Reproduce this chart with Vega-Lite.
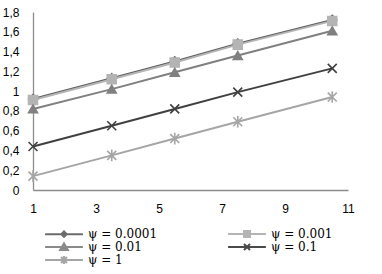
{
  "$schema": "https://vega.github.io/schema/vega-lite/v6.json",
  "autosize": "none",
  "width": 315,
  "height": 178,
  "padding": {"left": 33, "top": 12, "right": 34, "bottom": 84},
  "background": "white",
  "config": {
    "view": {"stroke": null},
    "axis": {
      "labelFont": "Liberation Sans",
      "labelFontSize": 12,
      "labelColor": "#000000",
      "grid": false,
      "ticks": false,
      "domainColor": "#8c8c8c",
      "domainWidth": 1.3,
      "title": null
    }
  },
  "datasets": {
    "series": [
      {"psi": "ψ = 0.0001", "x": 1, "y": 0.92},
      {"psi": "ψ = 0.0001", "x": 3.5, "y": 1.13},
      {"psi": "ψ = 0.0001", "x": 5.5, "y": 1.3},
      {"psi": "ψ = 0.0001", "x": 7.5, "y": 1.48},
      {"psi": "ψ = 0.0001", "x": 10.5, "y": 1.72},
      {"psi": "ψ = 0.001", "x": 1, "y": 0.91},
      {"psi": "ψ = 0.001", "x": 3.5, "y": 1.12},
      {"psi": "ψ = 0.001", "x": 5.5, "y": 1.29},
      {"psi": "ψ = 0.001", "x": 7.5, "y": 1.47},
      {"psi": "ψ = 0.001", "x": 10.5, "y": 1.71},
      {"psi": "ψ = 0.01", "x": 1, "y": 0.82},
      {"psi": "ψ = 0.01", "x": 3.5, "y": 1.02},
      {"psi": "ψ = 0.01", "x": 5.5, "y": 1.19},
      {"psi": "ψ = 0.01", "x": 7.5, "y": 1.36},
      {"psi": "ψ = 0.01", "x": 10.5, "y": 1.61},
      {"psi": "ψ = 0.1", "x": 1, "y": 0.44},
      {"psi": "ψ = 0.1", "x": 3.5, "y": 0.65},
      {"psi": "ψ = 0.1", "x": 5.5, "y": 0.82},
      {"psi": "ψ = 0.1", "x": 7.5, "y": 0.99},
      {"psi": "ψ = 0.1", "x": 10.5, "y": 1.23},
      {"psi": "ψ = 1", "x": 1, "y": 0.14},
      {"psi": "ψ = 1", "x": 3.5, "y": 0.35},
      {"psi": "ψ = 1", "x": 5.5, "y": 0.52},
      {"psi": "ψ = 1", "x": 7.5, "y": 0.69},
      {"psi": "ψ = 1", "x": 10.5, "y": 0.94}
    ]
  },
  "data": {"name": "series"},
  "encoding": {
    "x": {
      "field": "x",
      "type": "quantitative",
      "scale": {"domain": [1, 11], "nice": false, "zero": false},
      "axis": {"values": [1, 3, 5, 7, 9, 11], "labelPadding": 13, "labelFlush": false}
    },
    "y": {
      "field": "y",
      "type": "quantitative",
      "scale": {"domain": [0, 1.8], "nice": false},
      "axis": {
        "values": [0, 0.2, 0.4, 0.6, 0.8, 1, 1.2, 1.4, 1.6, 1.8],
        "labelExpr": "replace(format(datum.value, '.1~f'), '.', ',')",
        "labelPadding": 14
      }
    }
  },
  "layer": [
    {
      "mark": {"type": "line", "strokeWidth": 2},
      "encoding": {
        "color": {
          "field": "psi",
          "type": "nominal",
          "scale": {
            "domain": ["ψ = 0.0001", "ψ = 0.001", "ψ = 0.01", "ψ = 0.1", "ψ = 1"],
            "range": ["#5c5c5c", "#b4b4b4", "#808080", "#404040", "#a5a5a5"]
          },
          "legend": null
        }
      }
    },
    {
      "mark": {"type": "point", "filled": true, "opacity": 1, "size": 80, "strokeWidth": 1.6},
      "encoding": {
        "color": {
          "field": "psi",
          "type": "nominal",
          "scale": {
            "domain": ["ψ = 0.0001", "ψ = 0.001", "ψ = 0.01", "ψ = 0.1", "ψ = 1"],
            "range": ["#5c5c5c", "#b4b4b4", "#808080", "#404040", "#a5a5a5"]
          },
          "legend": null
        },
        "stroke": {
          "field": "psi",
          "type": "nominal",
          "scale": {
            "domain": ["ψ = 0.0001", "ψ = 0.001", "ψ = 0.01", "ψ = 0.1", "ψ = 1"],
            "range": ["#5c5c5c", "#b4b4b4", "#808080", "#404040", "#a5a5a5"]
          },
          "legend": null
        },
        "shape": {
          "field": "psi",
          "type": "nominal",
          "scale": {
            "domain": ["ψ = 0.0001", "ψ = 0.001", "ψ = 0.01", "ψ = 0.1", "ψ = 1"],
            "range": [
              "diamond",
              "square",
              "triangle-up",
              "M-1,-1L1,1M-1,1L1,-1",
              "M-1,-1L1,1M-1,1L1,-1M0,-1.3V1.3"
            ]
          },
          "legend": null
        }
      }
    },
    {
      "transform": [{"filter": "false"}],
      "mark": {"type": "point", "filled": true, "opacity": 1, "size": 36, "strokeWidth": 2},
      "encoding": {
        "color": {
          "field": "psi",
          "type": "nominal",
          "scale": {
            "domain": ["ψ = 0.0001", "ψ = 0.001", "ψ = 0.01", "ψ = 0.1", "ψ = 1"],
            "range": ["#6b6b6b", "#b4b4b4", "#8a8a8a", "#4a4a4a", "#a5a5a5"]
          },
          "legend": {
            "orient": "none",
            "legendX": 25,
            "legendY": 216,
            "direction": "horizontal",
            "columns": 2,
            "columnPadding": 66,
            "rowPadding": -3,
            "labelFont": "DejaVu Serif",
            "labelFontSize": 12,
            "labelColor": "#000000",
            "labelOffset": 18,
            "symbolStrokeWidth": 2,
            "symbolSize": 36,
            "title": null
          }
        },
        "stroke": {
          "field": "psi",
          "type": "nominal",
          "scale": {
            "domain": ["ψ = 0.0001", "ψ = 0.001", "ψ = 0.01", "ψ = 0.1", "ψ = 1"],
            "range": ["#6b6b6b", "#b4b4b4", "#8a8a8a", "#4a4a4a", "#a5a5a5"]
          }
        },
        "shape": {
          "field": "psi",
          "type": "nominal",
          "scale": {
            "domain": ["ψ = 0.0001", "ψ = 0.001", "ψ = 0.01", "ψ = 0.1", "ψ = 1"],
            "range": [
              "M-6.3,0H6.3M0,-0.9L0.9,0L0,0.9L-0.9,0Z",
              "M-6.3,0H6.3M-1,-1H1V1H-1Z",
              "M-6.3,0H6.3M0,-1.2L1.3,1L-1.3,1Z",
              "M-6.3,0H6.3M-1,-1L1,1M-1,1L1,-1",
              "M-6.3,0H6.3M-1,-1L1,1M-1,1L1,-1M0,-1.3V1.3"
            ]
          }
        }
      }
    }
  ],
  "resolve": {
    "scale": {"color": "independent", "stroke": "independent", "shape": "independent"}
  }
}
